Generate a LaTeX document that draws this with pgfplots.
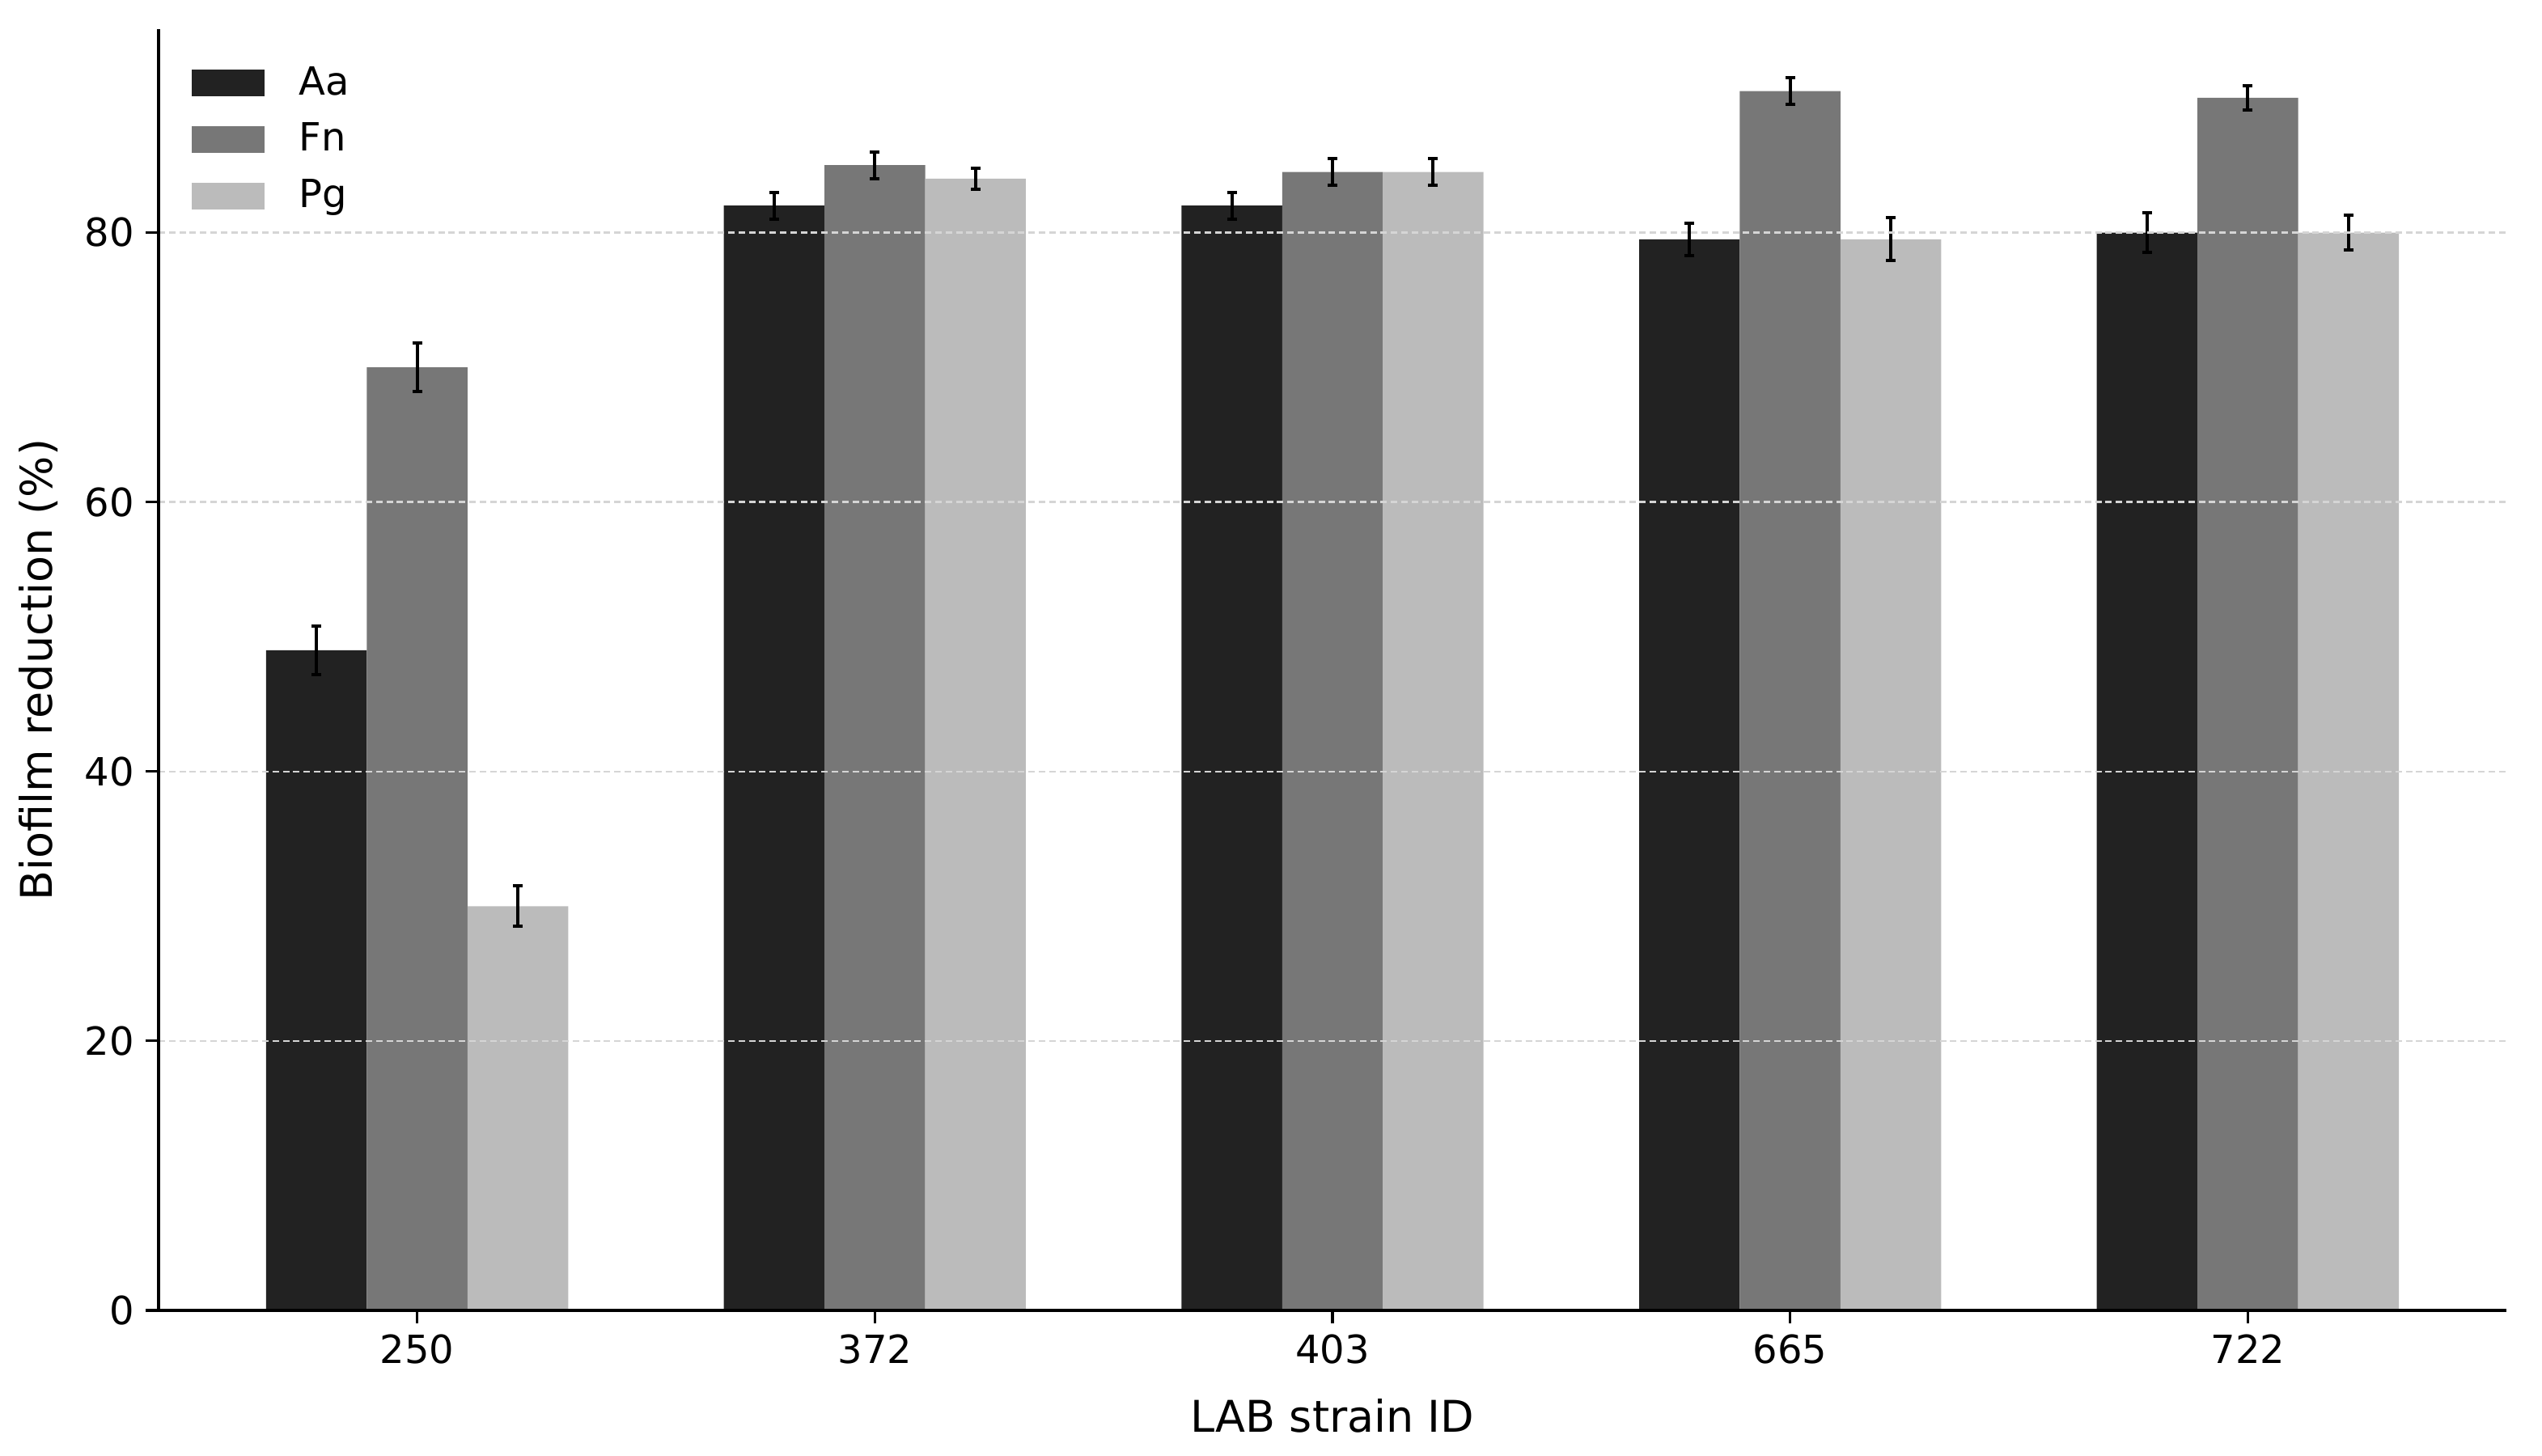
\documentclass[border=0pt]{standalone}
\usepackage{pgfplots}
\usepackage{pgfplotstable}
\pgfplotsset{compat=1.18}
\usepackage{fontspec}
\setmainfont{DejaVu Sans}
\definecolor{caa}{HTML}{222222}
\definecolor{cfn}{HTML}{777777}
\definecolor{cpg}{HTML}{BBBBBB}
\definecolor{cgrid}{HTML}{D5D5D5}
\pgfplotstableread{
x aa aae fn fne pg pge
0 49.0 1.8 70.0 1.8 30.0 1.5
1 82.0 1.0 85.0 1.0 84.0 0.8
2 82.0 1.0 84.5 1.0 84.5 1.0
3 79.5 1.2 90.5 1.0 79.5 1.6
4 80.0 1.5 90.0 0.9 80.0 1.3
}\data
\begin{document}
\begin{tikzpicture}
\useasboundingbox (0,0) rectangle (785.5pt,450pt);
\begin{axis}[
  at={(49pt,45pt)}, anchor=south west,
  scale only axis, width=725.5pt, height=396pt,
  xmin=-0.565, xmax=4.565, ymin=0, ymax=95.1,
  axis x line*=bottom, axis y line*=left,
  axis line style={line width=0.8pt, -},
  tick align=outside, major tick length=4pt,
  tick style={line width=0.8pt, black},
  xtick={0,1,2,3,4}, xticklabels={250,372,403,665,722},
  ytick={0,20,40,60,80},
  ymajorgrids, grid style={cgrid, line width=0.6pt, dash pattern=on 2pt off 1.2pt},
  axis on top,
  /pgf/number format/assume math mode=true,
  ticklabel style={font=\fontsize{12}{14}\selectfont},
  xlabel={LAB strain ID}, ylabel={Biofilm reduction (\%)},
  label style={font=\fontsize{13.5}{16}\selectfont},
  xlabel style={at={(axis description cs:0.5,-0.082)}, anchor=center},
  ylabel style={at={(axis description cs:-0.051,0.5)}, anchor=center},
  ybar, bar width=0.22,
  error bars/error bar style={line width=1pt, black},
  error bars/error mark options={rotate=90, mark size=1.5pt, line width=1pt, black},
  legend style={draw=none, fill=none, at={(axis description cs:0.0138,0.979)}, anchor=north west,
    font=\fontsize{12}{14}\selectfont, row sep=1.2pt, inner sep=0pt, nodes={inner sep=3pt},
    /tikz/column 1/.style={column sep=7.75pt}},
  legend cell align=left,
  legend image code/.code={\fill[#1] (0pt,-4.1pt) rectangle (22.5pt,4.1pt);},
]
\addplot[fill=caa, draw=none, bar shift=-0.22, error bars/.cd, y dir=both, y explicit]
  table[x=x, y=aa, y error=aae] {\data};
\addplot[fill=cfn, draw=none, bar shift=0, error bars/.cd, y dir=both, y explicit]
  table[x=x, y=fn, y error=fne] {\data};
\addplot[fill=cpg, draw=none, bar shift=0.22, error bars/.cd, y dir=both, y explicit]
  table[x=x, y=pg, y error=pge] {\data};
\legend{Aa, Fn, Pg}
\end{axis}
\end{tikzpicture}
\end{document}
